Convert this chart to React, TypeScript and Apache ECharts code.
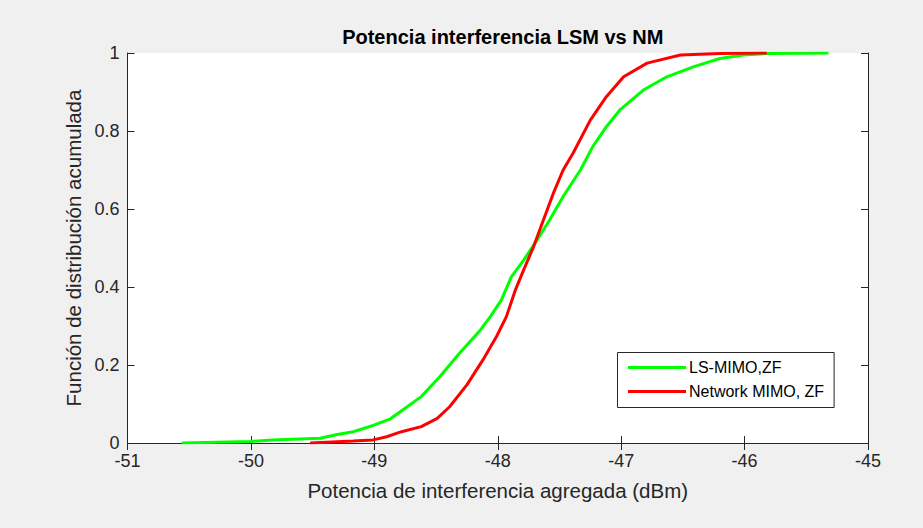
import React, { useEffect, useRef } from "react";
import * as echarts from "echarts";

const titleText = "Potencia interferencia LSM vs NM";
const xName = "Potencia de interferencia agregada (dBm)";
const yName = "Función de distribución acumulada";
const seriesNames = ["LS-MIMO,ZF", "Network MIMO, ZF"];

const lsX = [-50.56, -50.0, -49.82, -49.44, -49.3, -49.17, -49.01, -48.87, -48.79, -48.62, -48.47, -48.31, -48.14, -48.06, -47.97, -47.89, -47.79, -47.68, -47.58, -47.47, -47.33, -47.23, -47.12, -47.01, -46.82, -46.63, -46.41, -46.2, -46.01, -45.8, -45.32];
const lsY = [0, 0.004, 0.008, 0.012, 0.022, 0.029, 0.045, 0.062, 0.08, 0.119, 0.17, 0.23, 0.29, 0.324, 0.367, 0.426, 0.469, 0.521, 0.572, 0.632, 0.7, 0.76, 0.811, 0.854, 0.905, 0.939, 0.965, 0.986, 0.995, 0.999, 1.0];

const nmX = [-49.52, -49.17, -49.01, -48.9, -48.78, -48.62, -48.49, -48.39, -48.25, -48.12, -48.01, -47.93, -47.86, -47.79, -47.71, -47.63, -47.55, -47.47, -47.39, -47.25, -47.12, -46.98, -46.79, -46.52, -46.2, -45.82];
const nmY = [0, 0.005, 0.008, 0.016, 0.029, 0.042, 0.063, 0.093, 0.149, 0.213, 0.273, 0.324, 0.39, 0.444, 0.503, 0.572, 0.64, 0.7, 0.743, 0.828, 0.888, 0.939, 0.974, 0.995, 0.999, 1.0];

const xMin = -51, xMax = -45, xStep = 1;
const yMin = 0, yMax = 1, yStep = 0.2;

const FONT = "'Liberation Sans', Arial, Helvetica, sans-serif";
const AX = "#262626";

export default function App() {
  const ref = useRef<HTMLDivElement>(null);
  useEffect(() => {
    document.body.style.margin = "0";
    const chart = echarts.init(ref.current!, null, { renderer: "svg" });
    const pairs = (xs: number[], ys: number[]) => xs.map((x, i) => [x, ys[i]]);
    const axisCommon = {
      axisLine: { show: true, lineStyle: { color: AX, width: 1 } },
      axisTick: { show: true, inside: true, length: 7, lineStyle: { color: AX } },
      splitLine: { show: false },
    };
    chart.setOption({
      animation: false,
      backgroundColor: "#f0f0f0",
      textStyle: { fontFamily: FONT },
      title: {
        text: titleText,
        left: 497.75,
        textAlign: "center",
        top: 22,
        textStyle: { fontFamily: FONT, fontSize: 20, fontWeight: "bold", color: "#000" },
      },
      grid: {
        left: 127.5,
        right: 55,
        top: 53,
        bottom: 85,
        show: true,
        backgroundColor: "#fff",
        borderWidth: 0,
      },
      legend: {
        orient: "vertical",
        left: 617.5,
        top: 352.5,
        padding: [7, 10, 8, 10.5],
        itemGap: 8,
        itemWidth: 58,
        itemHeight: 3,
        icon: "rect",
        backgroundColor: "#fff",
        borderColor: AX,
        borderWidth: 1,
        textStyle: { fontFamily: FONT, fontSize: 16, color: "#000", lineHeight: 16, padding: [0, 0, 0, -2] },
        data: seriesNames,
      },
      xAxis: [
        {
          type: "value",
          min: xMin,
          max: xMax,
          interval: xStep,
          position: "bottom",
          name: xName,
          nameLocation: "middle",
          nameGap: 37,
          nameTextStyle: { fontFamily: FONT, fontSize: 20.5, color: AX },
          axisLabel: { fontFamily: FONT, fontSize: 18, color: AX, margin: 9 },
          ...axisCommon,
        },
        {
          type: "value",
          min: xMin,
          max: xMax,
          interval: xStep,
          position: "top",
          axisLabel: { show: false },
          ...axisCommon,
        },
      ],
      yAxis: [
        {
          type: "value",
          min: yMin,
          max: yMax,
          interval: yStep,
          position: "left",
          name: yName,
          nameLocation: "middle",
          nameGap: 40,
          nameTextStyle: { fontFamily: FONT, fontSize: 20.5, color: AX },
          axisLabel: { fontFamily: FONT, fontSize: 18, color: AX, margin: 8 },
          ...axisCommon,
        },
        {
          type: "value",
          min: yMin,
          max: yMax,
          interval: yStep,
          position: "right",
          axisLabel: { show: false },
          ...axisCommon,
        },
      ],
      series: [
        {
          name: seriesNames[0],
          type: "line",
          data: pairs(lsX, lsY),
          showSymbol: false,
          symbol: "none",
          lineStyle: { color: "#00ff00", width: 3 },
          itemStyle: { color: "#00ff00" },
          z: 2,
        },
        {
          name: seriesNames[1],
          type: "line",
          data: pairs(nmX, nmY),
          showSymbol: false,
          symbol: "none",
          lineStyle: { color: "#ff0000", width: 3 },
          itemStyle: { color: "#ff0000" },
          z: 3,
        },
      ],
    });
    return () => chart.dispose();
  }, []);
  return <div ref={ref} style={{ width: 923, height: 528 }} />;
}
